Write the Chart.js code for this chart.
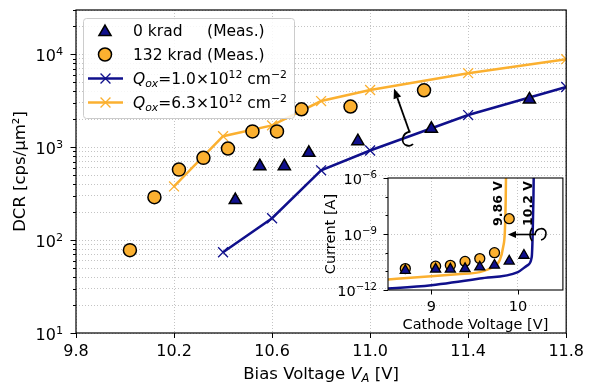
<!DOCTYPE html>
<html>
<head>
<meta charset="utf-8">
<script src="https://cdn.jsdelivr.net/npm/chart.js@4.4.0/dist/chart.umd.min.js"></script>
<style>
  html, body { margin: 0; padding: 0; background: #fff; }
  #wrap { position: relative; width: 593px; height: 389px; }
  #inset { position: absolute; left: 300px; top: 165px; }
</style>
</head>
<body>
<div id="wrap">
  <canvas id="main" width="593" height="389"></canvas>
  <canvas id="inset" width="270" height="172"></canvas>
</div>
<script>
// main plot: DCR vs bias voltage
const meas0Volt = [10.45, 10.55, 10.65, 10.75, 10.95, 11.25, 11.65];
const meas0DCR = [270, 625, 625, 870, 1160, 1580, 3270];
const meas132Volt = [10.02, 10.12, 10.22, 10.32, 10.42, 10.52, 10.62, 10.72, 10.92, 11.22];
const meas132DCR = [78, 290, 574, 768, 968, 1480, 1480, 2560, 2740, 4100];
const simLowVolt = [10.4, 10.6, 10.8, 11.0, 11.4, 11.8];
const simLowDCR = [74, 172, 564, 921, 2220, 4450];
const simHighVolt = [10.2, 10.4, 10.6, 10.8, 11.0, 11.4, 11.8];
const simHighDCR = [378, 1315, 1718, 3140, 4130, 6270, 8870];
const xTicks = [9.8, 10.2, 10.6, 11.0, 11.4, 11.8];
const yDecades = [1, 2, 3, 4];

// inset: current vs cathode voltage
const ivVolt = [8.70, 9.05, 9.22, 9.39, 9.56, 9.73, 9.90, 10.07];
const ivCur0 = [1.1e-11, 1.3e-11, 1.3e-11, 1.4e-11, 1.7e-11, 2.1e-11, 3.5e-11, 7.2e-11];
const ivCur132 = [1.4e-11, 1.9e-11, 2.1e-11, 3.4e-11, 4.8e-11, 1.0e-10, 6.6e-9];
const ivSimLowVolt = [8.4, 9.0, 9.56, 10.0, 10.11, 10.16, 10.17, 10.18, 10.185];
const ivSimLowCur = [1.1e-12, 1.8e-12, 4.1e-12, 9.1e-12, 2.1e-11, 5.8e-11, 6.8e-10, 1e-7, 1e-5];
const ivSimHighVolt = [8.4, 9.0, 9.3, 9.56, 9.71, 9.79, 9.83, 9.85, 9.86, 9.865];
const ivSimHighCur = [3.4e-12, 5.4e-12, 7e-12, 9.1e-12, 1.7e-11, 3.9e-11, 2.0e-10, 1.5e-9, 1e-7, 1e-5];
const insetXTicks = [9, 10];
const insetYDecades = [-12, -9, -6];

const NAVY = '#10108c';
const ORANGE = '#fbb030';
const GRID = '#c4c4c4';
const FONT = "'DejaVu Sans', sans-serif";

function pts(xs, ys) {
    return ys.map((y, i) => ({ x: xs[i], y: y }));
}

function fontStr(size, italic, bold) {
    return (italic ? 'italic ' : '') + (bold ? 'bold ' : '') + size + 'px ' + FONT;
}

// text with sub/superscripts, parts = [{t, it, sup, sub}]
function richWidth(ctx, parts, size) {
    let w = 0;
    parts.forEach(p => {
        ctx.font = fontStr((p.sup || p.sub) ? size * 0.7 : size, p.it);
        w += ctx.measureText(p.t).width;
    });
    return w;
}

function drawRich(ctx, parts, x, y, size, align) {
    let cx = x;
    if (align === 'center') cx -= richWidth(ctx, parts, size) / 2;
    if (align === 'right') cx -= richWidth(ctx, parts, size);
    ctx.textAlign = 'left';
    ctx.textBaseline = 'alphabetic';
    parts.forEach(p => {
        ctx.font = fontStr((p.sup || p.sub) ? size * 0.7 : size, p.it);
        let dy = 0;
        if (p.sup) dy = -size * 0.36;
        if (p.sub) dy = size * 0.2;
        ctx.fillText(p.t, cx, y + dy);
        cx += ctx.measureText(p.t).width;
    });
}

function arrowHead(ctx, fx, fy, tx, ty, len, half) {
    const d = Math.hypot(tx - fx, ty - fy);
    const ux = (tx - fx) / d, uy = (ty - fy) / d;
    const bx = tx - ux * len, by = ty - uy * len;
    ctx.beginPath();
    ctx.moveTo(fx, fy);
    ctx.lineTo(bx, by);
    ctx.stroke();
    ctx.beginPath();
    ctx.moveTo(tx, ty);
    ctx.lineTo(bx - uy * half, by + ux * half);
    ctx.lineTo(bx + uy * half, by - ux * half);
    ctx.closePath();
    ctx.fill();
}

function legendMarker(ctx, style, r, x, y, fill, stroke, bw) {
    ctx.fillStyle = fill;
    ctx.strokeStyle = stroke;
    ctx.lineWidth = bw;
    Chart.helpers.drawPoint(ctx, { pointStyle: style, radius: r, borderWidth: bw, rotation: 0 }, x, y);
}

const mainDecor = {
    id: 'mainDecor',
    afterDatasetsDraw(chart) {
        const ctx = chart.ctx;
        const ca = chart.chartArea;
        const xs = chart.scales.x, ys = chart.scales.y;
        ctx.save();
        ctx.strokeStyle = '#000';
        ctx.fillStyle = '#000';
        ctx.lineWidth = 1.2;
        ctx.strokeRect(ca.left, ca.top, ca.right - ca.left, ca.bottom - ca.top);

        // tick marks
        ctx.lineWidth = 1;
        xTicks.forEach(v => {
            const px = Math.round(xs.getPixelForValue(v)) + 0.5;
            ctx.beginPath();
            ctx.moveTo(px, ca.bottom);
            ctx.lineTo(px, ca.bottom + 5);
            ctx.stroke();
        });
        for (let n = 1; n <= 4; n++) {
            for (let m = 1; m <= 9; m++) {
                const v = m * Math.pow(10, n);
                if (v > ys.max) continue;
                const py = Math.round(ys.getPixelForValue(v)) + 0.5;
                const len = m === 1 ? 5.5 : 3;
                ctx.beginPath();
                ctx.moveTo(ca.left - len, py);
                ctx.lineTo(ca.left, py);
                ctx.stroke();
            }
        }
        yDecades.forEach(n => {
            const py = ys.getPixelForValue(Math.pow(10, n));
            drawRich(ctx, [{ t: '10' }, { t: String(n), sup: true }], 63, py + 6.5, 16, 'right');
        });

        // axis titles
        ctx.save();
        ctx.translate(25, (ca.top + ca.bottom) / 2);
        ctx.rotate(-Math.PI / 2);
        ctx.font = fontStr(16.5);
        ctx.textAlign = 'center';
        ctx.textBaseline = 'alphabetic';
        ctx.fillText('DCR [cps/\u03bcm\u00b2]', 0, 0);
        ctx.restore();
        drawRich(ctx, [{ t: 'Bias Voltage ' }, { t: 'V', it: true }, { t: 'A', it: true, sub: true }, { t: ' [V]' }],
            (ca.left + ca.right) / 2, 378.5, 16.5, 'center');

        // arrow with hook
        ctx.lineWidth = 1.8;
        arrowHead(ctx, 409.5, 132, 394, 88.5, 10, 4);
        ctx.beginPath();
        ctx.moveTo(410.5, 131.5);
        ctx.bezierCurveTo(401, 133, 400.5, 144, 407, 145.5);
        ctx.quadraticCurveTo(411, 146.5, 413, 144);
        ctx.stroke();

        // legend
        const lx = 83.5, ly = 18.5, lw = 211, lh = 100, rr = 3;
        ctx.beginPath();
        ctx.moveTo(lx + rr, ly);
        ctx.arcTo(lx + lw, ly, lx + lw, ly + lh, rr);
        ctx.arcTo(lx + lw, ly + lh, lx, ly + lh, rr);
        ctx.arcTo(lx, ly + lh, lx, ly, rr);
        ctx.arcTo(lx, ly, lx + lw, ly, rr);
        ctx.closePath();
        ctx.fillStyle = 'rgba(255,255,255,0.85)';
        ctx.fill();
        ctx.strokeStyle = '#cccccc';
        ctx.lineWidth = 1;
        ctx.stroke();

        const rows = [30.5, 54.5, 78.5, 102.5];
        const tx = 133, fs = 15.5;
        legendMarker(ctx, 'triangle', 7, 105, rows[0] + 1.5, NAVY, '#000', 1.5);
        legendMarker(ctx, 'circle', 6.5, 105, rows[1], ORANGE, '#000', 1.5);
        [[NAVY, rows[2]], [ORANGE, rows[3]]].forEach(([c, y]) => {
            ctx.strokeStyle = c;
            ctx.lineWidth = 2.5;
            ctx.beginPath();
            ctx.moveTo(88, y);
            ctx.lineTo(123, y);
            ctx.stroke();
            legendMarker(ctx, 'crossRot', 7, 105.5, y, c, c, 1.3);
        });
        ctx.fillStyle = '#000';
        ctx.font = fontStr(fs);
        ctx.textAlign = 'left';
        ctx.textBaseline = 'alphabetic';
        const measX = tx + ctx.measureText('132 krad ').width;
        ctx.fillText('0 krad', tx, rows[0] + 5.5);
        ctx.fillText('(Meas.)', measX, rows[0] + 5.5);
        ctx.fillText('132 krad (Meas.)', tx, rows[1] + 5.5);
        drawRich(ctx, [{ t: 'Q', it: true }, { t: 'ox', it: true, sub: true }, { t: '=1.0\u00d710' }, { t: '12', sup: true },
            { t: ' cm' }, { t: '\u22122', sup: true }], tx, rows[2] + 5.5, fs, 'left');
        drawRich(ctx, [{ t: 'Q', it: true }, { t: 'ox', it: true, sub: true }, { t: '=6.3\u00d710' }, { t: '12', sup: true },
            { t: ' cm' }, { t: '\u22122', sup: true }], tx, rows[3] + 5.5, fs, 'left');
        ctx.restore();
    }
};

const insetDecor = {
    id: 'insetDecor',
    beforeDraw(chart) {
        const ca = chart.chartArea;
        chart.ctx.save();
        chart.ctx.fillStyle = '#fff';
        chart.ctx.fillRect(ca.left, ca.top, ca.right - ca.left, ca.bottom - ca.top);
        chart.ctx.restore();
    },
    afterDatasetsDraw(chart) {
        const ctx = chart.ctx;
        const ca = chart.chartArea;
        const xs = chart.scales.x, ys = chart.scales.y;
        ctx.save();
        ctx.strokeStyle = '#000';
        ctx.fillStyle = '#000';
        ctx.lineWidth = 1.1;
        ctx.strokeRect(ca.left, ca.top, ca.right - ca.left, ca.bottom - ca.top);
        ctx.lineWidth = 1;
        insetXTicks.forEach(v => {
            const px = Math.round(xs.getPixelForValue(v)) + 0.5;
            ctx.beginPath();
            ctx.moveTo(px, ca.bottom);
            ctx.lineTo(px, ca.bottom + 4.5);
            ctx.stroke();
        });
        for (let n = -12; n <= -6; n++) {
            const py = Math.round(ys.getPixelForValue(Math.pow(10, n))) + 0.5;
            const len = insetYDecades.includes(n) ? 4.5 : 2.5;
            ctx.beginPath();
            ctx.moveTo(ca.left - len, py);
            ctx.lineTo(ca.left, py);
            ctx.stroke();
        }
        insetYDecades.forEach(n => {
            const py = ys.getPixelForValue(Math.pow(10, n));
            drawRich(ctx, [{ t: '10' }, { t: '\u2212' + Math.abs(n), sup: true }], 77, py + 5.5, 14.5, 'right');
        });

        ctx.save();
        ctx.translate(35, (ca.top + ca.bottom) / 2);
        ctx.rotate(-Math.PI / 2);
        ctx.font = fontStr(14.5);
        ctx.textAlign = 'center';
        ctx.textBaseline = 'alphabetic';
        ctx.fillText('Current [A]', 0, 0);
        ctx.restore();
        ctx.font = fontStr(14.5);
        ctx.textAlign = 'center';
        ctx.fillText('Cathode Voltage [V]', (ca.left + ca.right) / 2, 163.5);

        // breakdown labels
        [['9.86 V', 198.5], ['10.2 V', 229]].forEach(([t, x]) => {
            ctx.save();
            ctx.translate(x, 38.5);
            ctx.rotate(-Math.PI / 2);
            ctx.font = fontStr(12.5, false, true);
            ctx.textAlign = 'center';
            ctx.textBaseline = 'middle';
            ctx.fillText(t, 0, 0);
            ctx.restore();
        });

        // shift arrow with hook
        ctx.lineWidth = 1.6;
        arrowHead(ctx, 236, 69.5, 208, 69.5, 8, 3.5);
        ctx.beginPath();
        ctx.moveTo(235, 69.5);
        ctx.bezierCurveTo(236, 62, 246, 62, 246, 68);
        ctx.quadraticCurveTo(246, 74, 241, 75);
        ctx.stroke();
        ctx.beginPath();
        ctx.moveTo(232, 63);
        ctx.quadraticCurveTo(228, 70, 232, 76);
        ctx.stroke();
        ctx.restore();
    }
};

const commonOpts = {
    responsive: false,
    animation: false,
    devicePixelRatio: 1,
    events: [],
    plugins: { legend: { display: false }, tooltip: { enabled: false } }
};

new Chart(document.getElementById('main'), {
    type: 'scatter',
    data: {
        datasets: [
            {
                label: '0 krad (Meas.)',
                data: pts(meas0Volt, meas0DCR),
                pointStyle: 'triangle', pointRadius: 7,
                backgroundColor: NAVY, borderColor: '#000', borderWidth: 1.5
            },
            {
                label: '132 krad (Meas.)',
                data: pts(meas132Volt, meas132DCR),
                pointStyle: 'circle', pointRadius: 6.5,
                backgroundColor: ORANGE, borderColor: '#000', borderWidth: 1.5
            },
            {
                label: 'Qox=1.0e12',
                data: pts(simLowVolt, simLowDCR),
                showLine: true, borderColor: NAVY, borderWidth: 2.5,
                pointStyle: 'crossRot', pointRadius: 7,
                pointBorderColor: NAVY, pointBackgroundColor: NAVY, pointBorderWidth: 1.3
            },
            {
                label: 'Qox=6.3e12',
                data: pts(simHighVolt, simHighDCR),
                showLine: true, borderColor: ORANGE, borderWidth: 2.5,
                pointStyle: 'crossRot', pointRadius: 7,
                pointBorderColor: ORANGE, pointBackgroundColor: ORANGE, pointBorderWidth: 1.3
            }
        ]
    },
    options: Object.assign({}, commonOpts, {
        layout: { padding: { left: 0, top: 10, right: 21, bottom: 0 } },
        scales: {
            x: {
                type: 'linear', min: 9.8, max: 11.8,
                afterBuildTicks: s => { s.ticks = xTicks.map(v => ({ value: v })); },
                afterFit: s => { s.height = 56; },
                grid: { color: GRID, lineWidth: 1, drawTicks: false },
                border: { display: false, dash: [1, 2] },
                ticks: {
                    color: '#000', padding: 9, maxRotation: 0, autoSkip: false,
                    font: { family: FONT, size: 16 },
                    callback: v => v.toFixed(1)
                }
            },
            y: {
                type: 'logarithmic', min: 10, max: 3e4,
                afterBuildTicks: s => {
                    const t = [];
                    for (let n = 1; n <= 4; n++) {
                        for (let m = 1; m <= 9; m++) {
                            const v = m * Math.pow(10, n);
                            if (v <= 3e4) t.push({ value: v, major: m === 1 });
                        }
                    }
                    s.ticks = t;
                },
                afterFit: s => { s.width = 76; },
                grid: { color: GRID, lineWidth: 1, drawTicks: false },
                border: { display: false, dash: [1, 2] },
                ticks: { display: false }
            }
        }
    }),
    plugins: [mainDecor]
});

new Chart(document.getElementById('inset'), {
    type: 'scatter',
    data: {
        datasets: [
            {
                data: pts(ivVolt, ivCur0),
                pointStyle: 'triangle', pointRadius: 5.8,
                backgroundColor: NAVY, borderColor: '#000', borderWidth: 1.3
            },
            {
                data: pts(ivVolt, ivCur132),
                pointStyle: 'circle', pointRadius: 5,
                backgroundColor: ORANGE, borderColor: '#000', borderWidth: 1.3
            },
            {
                data: pts(ivSimLowVolt, ivSimLowCur),
                showLine: true, pointRadius: 0, borderColor: NAVY, borderWidth: 2.5,
                cubicInterpolationMode: 'monotone'
            },
            {
                data: pts(ivSimHighVolt, ivSimHighCur),
                showLine: true, pointRadius: 0, borderColor: ORANGE, borderWidth: 2.5,
                cubicInterpolationMode: 'monotone'
            }
        ]
    },
    options: Object.assign({}, commonOpts, {
        layout: { padding: { left: 0, top: 13, right: 7, bottom: 0 } },
        scales: {
            x: {
                type: 'linear', min: 8.5, max: 10.52,
                afterBuildTicks: s => { s.ticks = insetXTicks.map(v => ({ value: v })); },
                afterFit: s => { s.height = 47; },
                grid: { color: GRID, lineWidth: 1, drawTicks: false },
                border: { display: false, dash: [1, 2] },
                ticks: {
                    color: '#000', padding: 9, maxRotation: 0, autoSkip: false,
                    font: { family: FONT, size: 14.5 },
                    callback: v => String(v)
                }
            },
            y: {
                type: 'logarithmic', min: 1e-12, max: 1e-6,
                afterBuildTicks: s => { s.ticks = insetYDecades.map(n => ({ value: Math.pow(10, n) })); },
                afterFit: s => { s.width = 88; },
                grid: {
                    lineWidth: 1, drawTicks: false,
                    color: c => (c.tick && Math.abs(Math.log10(c.tick.value) + 9) < 0.01) ? GRID : 'rgba(0,0,0,0)'
                },
                border: { display: false, dash: [1, 2] },
                ticks: { display: false }
            }
        }
    }),
    plugins: [insetDecor]
});
</script>
</body>
</html>
